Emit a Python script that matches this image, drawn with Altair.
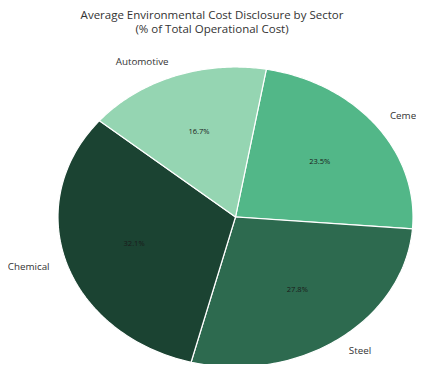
import altair as alt
import pandas as pd

sectors = ["Cement", "Steel", "Chemical", "Automotive"]
values = [23.5, 27.8, 32.1, 16.7]
colors = ["#52b788", "#2d6a4f", "#1b4332", "#95d5b2"]
title_lines = ["Average Environmental Cost Disclosure by Sector", "(% of Total Operational Cost)"]

START = 0.1745  # ~10 degrees clockwise from 12 o'clock
N = 90
FONT = "Open Sans"

df = pd.DataFrame({"sector": sectors, "value": values, "idx": list(range(len(sectors)))})

PAD_TOP = 36
W, H = 408, 320
cx, cy, rx, ry = 227.5, 173.0, 177.5, 150.0
xdom = [-cx / rx, (W - cx) / rx]
ydom = [cy / ry - H / ry, cy / ry]

base = (
    alt.Chart(df)
    .transform_joinaggregate(total="sum(value)")
    .transform_window(cum="sum(value)", sort=[alt.SortField("idx")], frame=[None, 0])
    .transform_calculate(
        a0=f"{START} + 2*PI*(datum.cum - datum.value)/datum.total",
        a1=f"{START} + 2*PI*datum.cum/datum.total",
    )
    .transform_calculate(mid="(datum.a0 + datum.a1)/2")
)

xs = alt.Scale(domain=xdom, nice=False, zero=False)
ys = alt.Scale(domain=ydom, nice=False, zero=False)
cscale = alt.Scale(domain=sectors, range=colors)

pie = (
    base.transform_calculate(steps=f"sequence(0, {N + 1})")
    .transform_flatten(["steps"])
    .transform_calculate(ang=f"datum.a0 + (datum.a1 - datum.a0) * min(datum.steps, {N - 1}) / {N - 1}")
    .transform_calculate(
        px=f"datum.steps == {N} ? 0 : sin(datum.ang)",
        py=f"datum.steps == {N} ? 0 : cos(datum.ang)",
    )
    .mark_line(filled=True, interpolate="linear-closed", stroke="white", strokeWidth=1.2)
    .encode(
        x=alt.X("px:Q", scale=xs, axis=None),
        y=alt.Y("py:Q", scale=ys, axis=None),
        color=alt.Color("sector:N", scale=cscale, legend=None),
        order=alt.Order("steps:Q"),
    )
)

pct = (
    base.transform_calculate(
        lx="0.6*sin(datum.mid)",
        ly="0.6*cos(datum.mid)",
        txt="format(datum.value, '.1f') + '%'",
    )
    .mark_text(font=FONT, fontSize=7.5, color="#1a1a1a", align="center", baseline="middle")
    .encode(x=alt.X("lx:Q", scale=xs, axis=None), y=alt.Y("ly:Q", scale=ys, axis=None), text="txt:N")
)

names = base.transform_calculate(nx="1.1*sin(datum.mid)", ny="1.1*cos(datum.mid)")
names_r = (
    names.transform_filter("datum.nx >= 0")
    .mark_text(font=FONT, fontSize=9.8, color="#333333", align="left", baseline="middle")
    .encode(x=alt.X("nx:Q", scale=xs, axis=None), y=alt.Y("ny:Q", scale=ys, axis=None), text="sector:N")
)
names_l = (
    names.transform_filter("datum.nx < 0")
    .mark_text(font=FONT, fontSize=9.8, color="#333333", align="right", baseline="middle")
    .encode(x=alt.X("nx:Q", scale=xs, axis=None), y=alt.Y("ny:Q", scale=ys, axis=None), text="sector:N")
)

chart = (
    alt.layer(pie, pct, names_r, names_l)
    .properties(
        width=W,
        height=H,
        autosize=alt.AutoSizeParams(type="none"),
        padding={"left": 0, "top": PAD_TOP, "right": 0, "bottom": 0},
        title=alt.TitleParams(
            title_lines,
            font=FONT,
            fontSize=11.5,
            fontWeight="normal",
            color="#333333",
            anchor="middle",
            offset=9,
            lineHeight=13.5,
        ),
    )
    .configure_view(stroke=None)
)

chart.save("out.html", embed_options={"renderer": "svg", "actions": False})
